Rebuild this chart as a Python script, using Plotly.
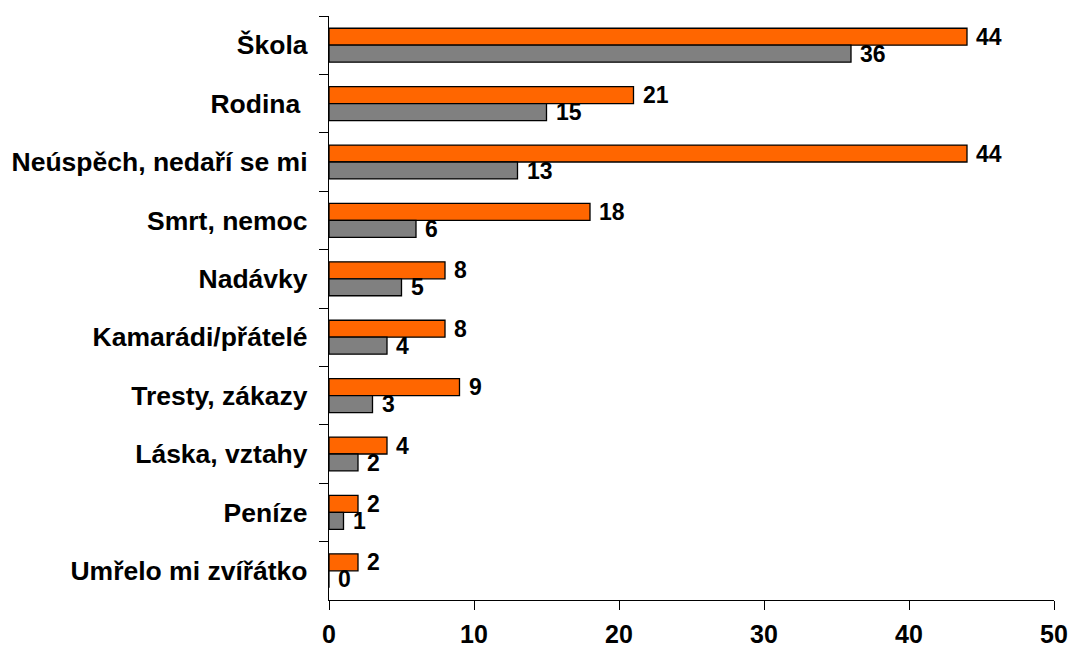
import plotly.graph_objects as go

categories = ["Škola", "Rodina ", "Neúspěch, nedaří se mi", "Smrt, nemoc", "Nadávky",
              "Kamarádi/přátelé", "Tresty, zákazy", "Láska, vztahy", "Peníze", "Umřelo mi zvířátko"]
orange_vals = [44, 21, 44, 18, 8, 8, 9, 4, 2, 2]
gray_vals = [36, 15, 13, 6, 5, 4, 3, 2, 1, 0]
x_ticks = [0, 10, 20, 30, 40, 50]

FONT = "Liberation Sans, Arial, sans-serif"

fig = go.Figure()
fig.add_trace(go.Bar(
    y=categories, x=orange_vals, orientation="h", name="A",
    marker=dict(color="#FF6600", line=dict(color="black", width=1.3)),
    cliponaxis=False,
))
fig.add_trace(go.Bar(
    y=categories, x=gray_vals, orientation="h", name="B",
    marker=dict(color="#808080", line=dict(color="black", width=1.3)),
    cliponaxis=False,
))

# data labels, anchored to the bar ends through the axes
for vals, ysh in ((orange_vals, 8.5), (gray_vals, -8.5)):
    for cat, v in zip(categories, vals):
        fig.add_annotation(
            x=v, y=cat, xref="x", yref="y", text=str(v), showarrow=False,
            xanchor="left", yanchor="middle", xshift=7, yshift=ysh,
            font=dict(family=FONT, size=23, color="black", weight="bold"),
        )

fig.update_layout(
    width=1071, height=648,
    margin=dict(l=329, r=17, t=16, b=48),
    paper_bgcolor="white", plot_bgcolor="white",
    barmode="group", bargap=0.42, bargroupgap=0,
    showlegend=False,
    font=dict(family=FONT, color="black"),
)
fig.update_xaxes(
    range=[0, 50], tickvals=x_ticks, ticktext=[str(t) for t in x_ticks],
    showgrid=False, zeroline=False, automargin=False,
    showline=True, linecolor="black", linewidth=1.3,
    ticks="outside", ticklen=9, tickcolor="black", tickwidth=1.3,
    ticklabelstandoff=3,
    tickfont=dict(family=FONT, size=25, color="black", weight="bold"),
)
fig.update_yaxes(
    autorange="reversed", type="category", automargin=False,
    showgrid=False, zeroline=False,
    showline=True, linecolor="black", linewidth=1.3,
    ticks="outside", ticklen=9, tickcolor="black", tickwidth=1.3,
    tickson="boundaries",
    ticklabelstandoff=15,
    tickfont=dict(family=FONT, size=26.5, color="black", weight="bold"),
)

fig.write_html("out.html", config={"displayModeBar": False},
               post_script="document.body.style.margin='0';")
